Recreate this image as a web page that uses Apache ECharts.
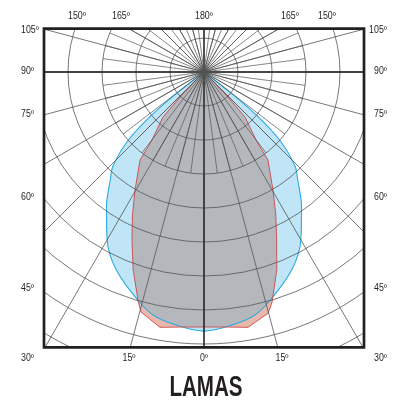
<!DOCTYPE html>
<html><head><meta charset="utf-8">
<script src="https://cdn.jsdelivr.net/npm/echarts@6/dist/echarts.min.js"></script>
<style>html,body{margin:0;padding:0;background:#fff}#c{width:400px;height:403px}</style>
</head><body><div id="c"></div>
<script>
// ---- data (gamma in degrees: + = left side, - = right side; intensity in grid units, 50 per ring) ----
const blueGamma = [54, 52, 50.5, 48, 44, 41, 36, 30, 24, 16, 11, 5, 0, -5, -11, -16, -24, -30, -36, -41, -44, -48, -50.5, -52, -54];
const blueValue = [0, 50, 101, 150, 193, 210, 244, 285, 318, 350, 367, 376, 381, 376, 367, 350, 318, 285, 244, 210, 193, 150, 101, 50, 0];

const redGamma = [45, 43.8, 42.3, 37.4, 36, 30.3, 26.6, 23.2, 19.7, 16, 14.7, 9.8, 5, 0, -5, -9.8, -14.9, -16.5, -20.2, -23.4, -26.7, -30.3, -36, -37.4, -42.3, -43.8, -45];
const redValue = [0, 51, 90, 126, 160, 201, 235, 269, 309, 351, 365, 381, 376.5, 375, 376.5, 381, 367, 352.6, 310, 269, 235, 201, 160, 126, 90, 51, 0];

// overlap (grey) region
const greyGamma = [45, 43.8, 42.3, 37.4, 36, 30.3, 26.6, 23.2, 19.7, 16.3, 11, 5, 0, -5, -11, -16.8, -20.2, -23.4, -26.7, -30.3, -36, -37.4, -42.3, -43.8, -45];
const greyValue = [0, 51, 90, 126, 160, 201, 235, 269, 309, 348, 367, 376, 375, 376, 367, 347, 310, 269, 235, 201, 160, 126, 90, 51, 0];

const topLabels = ['150º', '165º', '180º', '165º', '150º'];
const sideLabels = ['105º', '90º', '75º', '60º', '45º'];
const bottomLabels = ['30º', '15º', '0º', '15º', '30º'];
const titleText = 'LAMAS';

// ---- layout ----
const CX = 204, CY = 72, R = 340;
const BOX = {x: 44, y: 28.7, w: 320, h: 318.6};
const topLabelX = [77, 121, 204, 290, 327], topLabelY = 16;
const sideLabelY = [30, 71.5, 114, 197, 288], leftLabelX = 21, rightLabelX = 387;
const bottomLabelX = [21, 129, 204, 282, 387], bottomAlign = ['left', 'center', 'center', 'center', 'right'], bottomLabelY = 358;

function pairs(g, v) { return v.map((r, i) => [r, g[i]]); }

const hiddenAxis = {axisLine: {show: false}, axisTick: {show: false}, axisLabel: {show: false}};
function angleAx(idx, interval, color, width) {
  return Object.assign({polarIndex: idx, type: 'value', min: -180, max: 180, startAngle: 90, clockwise: true,
    interval: interval, z: 10, splitLine: {show: true, lineStyle: {color: color, width: width}}}, hiddenAxis);
}

const labelFont = '10px "Liberation Sans", Arial, sans-serif';
const txt = (s, x, y, align) => ({type: 'text', x: x, y: y, scaleX: 0.88, z: 102, silent: true,
  style: {text: s, fill: '#231f20', font: labelFont, textAlign: align, textVerticalAlign: 'middle'}});

const graphics = [
  {type: 'rect', z: 100, silent: true, shape: {x: 0, y: 0, width: 400, height: BOX.y}, style: {fill: '#fff'}},
  {type: 'rect', z: 100, silent: true, shape: {x: 0, y: BOX.y + BOX.h, width: 400, height: 403}, style: {fill: '#fff'}},
  {type: 'rect', z: 100, silent: true, shape: {x: 0, y: 0, width: BOX.x, height: 403}, style: {fill: '#fff'}},
  {type: 'rect', z: 100, silent: true, shape: {x: BOX.x + BOX.w, y: 0, width: 100, height: 403}, style: {fill: '#fff'}},
  {type: 'rect', z: 101, silent: true, shape: {x: BOX.x, y: BOX.y, width: BOX.w, height: BOX.h}, style: {fill: 'none', stroke: '#231f20', lineWidth: 2.7}},
];
topLabels.forEach((s, i) => graphics.push(txt(s, topLabelX[i], topLabelY, 'center')));
sideLabels.forEach((s, i) => { graphics.push(txt(s, leftLabelX, sideLabelY[i], 'left')); graphics.push(txt(s, rightLabelX, sideLabelY[i], 'right')); });
bottomLabels.forEach((s, i) => graphics.push(txt(s, bottomLabelX[i], bottomLabelY, bottomAlign[i])));
graphics.push({type: 'text', x: 206, y: 388, scaleX: 0.71, z: 102, silent: true,
  style: {text: titleText, fill: '#231f20', font: 'bold 29px "Liberation Sans", Arial, sans-serif', textAlign: 'center', textVerticalAlign: 'middle'}});

const base = {type: 'line', coordinateSystem: 'polar', polarIndex: 0, symbol: 'none', showSymbol: false, clip: false, silent: true, animation: false};

const option = {
  backgroundColor: '#fff',
  animation: false,
  polar: [
    {center: [CX, CY], radius: [0, R]},
    {center: [CX, CY], radius: [0, R]},
    {center: [CX, CY], radius: [0, 102]}
  ],
  radiusAxis: [
    Object.assign({polarIndex: 0, type: 'value', min: 0, max: 500, interval: 50, z: 10,
      splitLine: {show: true, lineStyle: {color: '#555', width: 0.8}}}, hiddenAxis),
    Object.assign({polarIndex: 1, type: 'value', min: 0, max: 1, splitLine: {show: false}}, hiddenAxis),
    Object.assign({polarIndex: 2, type: 'value', min: 0, max: 1, splitLine: {show: false}}, hiddenAxis)
  ],
  angleAxis: [
    angleAx(0, 15, '#555', 0.8),
    angleAx(1, 90, '#1a1a1a', 1.3),
    angleAx(2, 7.5, '#555', 0.7)
  ],
  series: [
    Object.assign({}, base, {z: 2, smooth: 0.3, data: pairs(blueGamma, blueValue), lineStyle: {width: 0}, areaStyle: {color: '#bfe5f7', opacity: 1}}),
    Object.assign({}, base, {z: 3, data: pairs(redGamma, redValue), lineStyle: {width: 0}, areaStyle: {color: '#e7b8ab', opacity: 1}}),
    Object.assign({}, base, {z: 4, data: pairs(greyGamma, greyValue), lineStyle: {width: 0}, areaStyle: {color: '#b4b8bd', opacity: 1}}),
    Object.assign({}, base, {z: 5, smooth: 0.3, data: pairs(blueGamma, blueValue), lineStyle: {color: '#29abe2', width: 1.1}}),
    Object.assign({}, base, {z: 6, data: pairs(redGamma, redValue), lineStyle: {color: '#cc4a4a', width: 0.9}})
  ],
  graphic: {elements: graphics}
};

const chart = echarts.init(document.getElementById('c'), null, {renderer: 'canvas'});
chart.setOption(option);
</script></body></html>
